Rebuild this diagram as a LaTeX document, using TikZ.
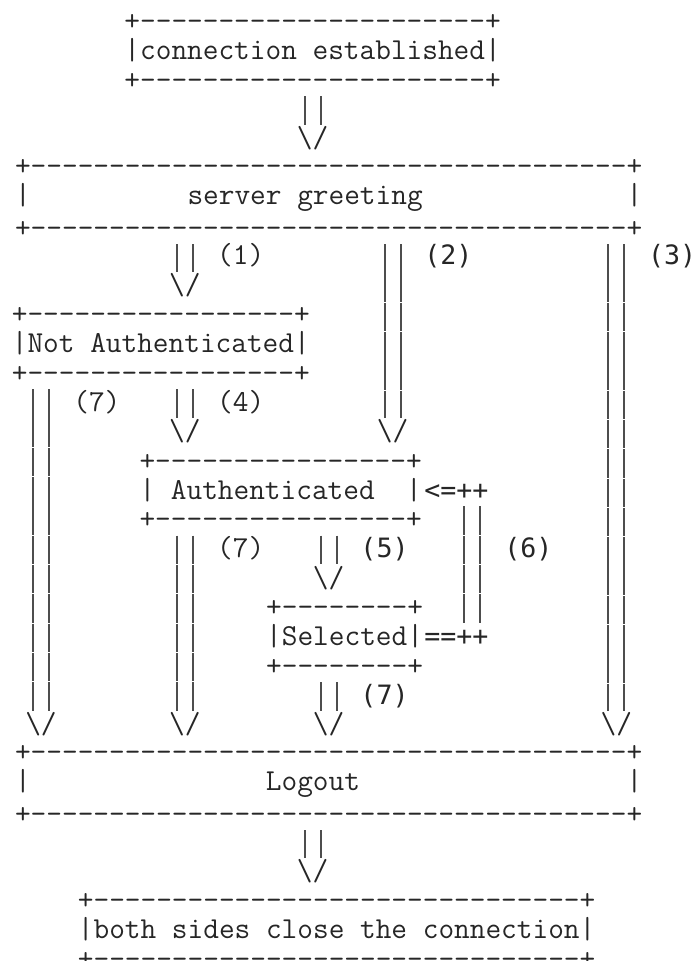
\documentclass[tikz,border=0pt]{standalone}
\usepackage{fontspec}
\newfontfamily\monoalt{DejaVu Sans Mono}
\usepackage{tikz}
\usetikzlibrary{positioning}
\definecolor{tinta}{HTML}{262626}
\definecolor{riel}{HTML}{4D4D4D}
% one text row: 11pt high, baseline 2.5pt above its bottom
\newcommand{\rowstrut}{\rule[-2.5pt]{0pt}{11pt}}
% typewriter at 6pt per character
\newcommand{\asciifont}{\ttfamily\fontsize{11.43pt}{11pt}\selectfont\frenchspacing}
\newcommand{\altfont}{\monoalt\fontsize{10pt}{11pt}\selectfont}
\newcommand{\threerows}[3]{\rowstrut#1\\\rowstrut#2\\\rowstrut#3}
% a double bar from a state down to its arrow head
\newcommand{\rail}[2]{%
  \draw[bar] (#1.south -| #2) ++(-3pt,0) -- ([xshift=-3pt]#2.north)
             (#1.south -| #2) ++(3pt,0) -- ([xshift=3pt]#2.north);}
\tikzset{
  every picture/.style={font=\asciifont},
  state/.style={inner sep=0pt, outer sep=0pt, align=center, text=tinta},
  cell/.style={inner sep=0pt, outer sep=0pt, text height=8.5pt, text depth=2.5pt, text=tinta},
  tip/.style={cell},
  tag/.style={cell},
  tagalt/.style={cell, font=\altfont},
  bar/.style={draw=riel, line width=0.75pt, dash pattern=on 10.7pt off 0.3pt, dash phase=10.85pt},
}

\begin{document}
\begin{tikzpicture}[x=6pt, y=-11pt]
  \path[fill=white, use as bounding box] (-1.0625,-0.77) rectangle (42.125,32.03);

  % states
  \node[state] (conn) at (18.5,1) {\threerows{+----------------------+}{|connection established|}{+----------------------+}};
  \node[state] (greet) at (19.5,6) {\threerows{+--------------------------------------+}{|~~~~~~~~~~server greeting~~~~~~~~~~~~~|}{+--------------------------------------+}};
  \node[state] (notauth) at (9,11) {\threerows{+-----------------+}{|Not Authenticated|}{+-----------------+}};
  \node[state] (auth) at (16.5,16) {\threerows{+----------------+}{|~Authenticated~~|}{+----------------+}};
  \node[state] (sel) at (20.5,21) {\threerows{+--------+}{|Selected|}{+--------+}};
  \node[state] (logout) at (19.5,26) {\threerows{+--------------------------------------+}{|~~~~~~~~~~~~~~~Logout~~~~~~~~~~~~~~~~~|}{+--------------------------------------+}};
  \node[state] (close) at (20,31) {\threerows{+-------------------------------+}{|both sides close the connection|}{+-------------------------------+}};

  % arrow heads
  \node[tip] (t0) at (18.5,4) {\textbackslash/};
  \node[tip] (t1) at (10.5,9) {\textbackslash/};
  \node[tip] (t2) at (23.5,14) {\textbackslash/};
  \node[tip] (t3) at (37.5,24) {\textbackslash/};
  \node[tip] (t4) at (10.5,14) {\textbackslash/};
  \node[tip] (t5) at (19.5,19) {\textbackslash/};
  \node[tip] (t7a) at (1.5,24) {\textbackslash/};
  \node[tip] (t7b) at (10.5,24) {\textbackslash/};
  \node[tip] (t7c) at (19.5,24) {\textbackslash/};
  \node[tip] (t8) at (18.5,29) {\textbackslash/};

  % transitions
  \rail{conn}{t0}
  \rail{greet}{t1}
  \rail{greet}{t2}
  \rail{greet}{t3}
  \rail{notauth}{t4}
  \rail{notauth}{t7a}
  \rail{auth}{t5}
  \rail{auth}{t7b}
  \rail{sel}{t7c}
  \rail{logout}{t8}

  % selected back to authenticated
  \node[tagalt] (back) at (27.5,16) {<=++};
  \node[tagalt] (fwd) at (27.5,21) {==++};
  \draw[bar] ([xshift=3pt]back.south) -- ([xshift=3pt]fwd.north)
             ([xshift=9pt]back.south) -- ([xshift=9pt]fwd.north);

  % transition numbers
  \node[tag] (n1) at (14,8) {(1)};
  \node[tagalt] (n2) at (27,8) {(2)};
  \node[tagalt] (n3) at (41,8) {(3)};
  \node[tag] (n7a) at (5,13) {(7)};
  \node[tag] (n4) at (14,13) {(4)};
  \node[tag] (n7b) at (14,18) {(7)};
  \node[tagalt] (n5) at (23,18) {(5)};
  \node[tagalt] (n6) at (32,18) {(6)};
  \node[tagalt] (n7c) at (23,23) {(7)};
\end{tikzpicture}
\end{document}
